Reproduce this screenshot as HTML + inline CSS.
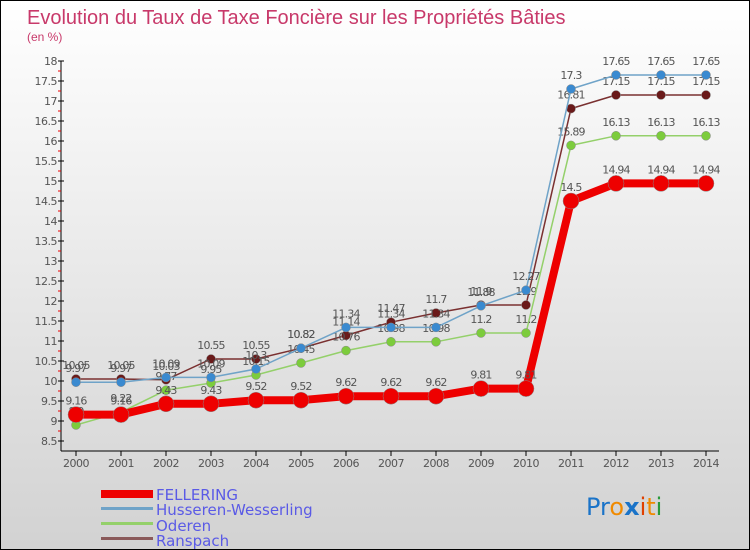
<!DOCTYPE html>
<html><head><meta charset="utf-8"><style>
body{margin:0;}
#c{width:750px;height:550px;position:relative;box-sizing:border-box;border:1px solid #000;background:linear-gradient(#ffffff,#d2d2d2);font-family:"DejaVu Sans","Liberation Sans",sans-serif;overflow:hidden}
</style></head><body>
<div id="c">
<svg id="s" width="750" height="550" style="position:absolute;left:0;top:0">
<text x="26" y="23" font-size="20" fill="#c8396a" font-family="Liberation Sans">Evolution du Taux de Taxe Foncière sur les Propriétés Bâties</text>
<text x="26" y="40" font-size="12" fill="#c8396a" font-family="Liberation Sans">(en %)</text>
<g id="axes"></g><g id="series"></g>
<g>
<rect x="100" y="489" width="52" height="8" fill="#e00"/>
<text x="155" y="499" font-size="15" fill="#5a5ae6">FELLERING</text>
<rect x="100" y="506" width="52" height="3" fill="#6fa3c8"/>
<text x="155" y="514" font-size="15" fill="#5a5ae6">Husseren-Wesserling</text>
<rect x="100" y="521" width="52" height="3" fill="#94d06a"/>
<text x="155" y="530" font-size="15" fill="#5a5ae6">Oderen</text>
<rect x="100" y="536" width="52" height="3" fill="#8a5a5a"/>
<text x="155" y="545" font-size="15" fill="#5a5ae6">Ranspach</text>
</g>
<text x="585" y="514" font-size="24"><tspan fill="#1a73c8">Pr</tspan><tspan fill="#f08a00">o</tspan><tspan fill="#1a73c8" font-weight="bold">x</tspan><tspan fill="#e04000">i</tspan><tspan fill="#f08a00">t</tspan><tspan fill="#2a9a3a">i</tspan></text>
</svg>
</div>
<script>
const years=[2000,2001,2002,2003,2004,2005,2006,2007,2008,2009,2010,2011,2012,2013,2014];
const fellering=[9.16,9.16,9.43,9.43,9.52,9.52,9.62,9.62,9.62,9.81,9.81,14.5,14.94,14.94,14.94];
const husseren=[9.97,9.97,10.09,10.09,10.3,10.82,11.34,11.34,11.34,11.88,12.27,17.3,17.65,17.65,17.65];
const oderen=[8.9,9.22,9.77,9.95,10.15,10.45,10.76,10.98,10.98,11.2,11.2,15.89,16.13,16.13,16.13];
const ranspach=[10.05,10.05,10.03,10.55,10.55,10.82,11.14,11.47,11.7,11.9,11.9,16.81,17.15,17.15,17.15];
const yTicks=[8.5,9,9.5,10,10.5,11,11.5,12,12.5,13,13.5,14,14.5,15,15.5,16,16.5,17,17.5,18];
const NS="http://www.w3.org/2000/svg";
const x=i=>75+i*45, y=v=>440-(v-8.5)*40;
function mk(t,a,p){const e=document.createElementNS(NS,t);for(const k in a)e.setAttribute(k,a[k]);p.appendChild(e);return e;}
const ax=document.getElementById('axes'), sg=document.getElementById('series');
let l=mk('line',{x1:60,y1:y(18),x2:60,y2:450,stroke:'#000'},ax);


l=mk('line',{x1:60,y1:450,x2:718,y2:450,stroke:'#000'},ax);


yTicks.forEach(v=>{
 mk('line',{x1:57,y1:y(v),x2:63,y2:y(v),stroke:'#000'},ax);
 if(v<18) mk('line',{x1:57,y1:y(v+0.25),x2:60,y2:y(v+0.25),stroke:'#e00'},ax);
 const t=mk('text',{x:56,y:y(v)+4,'font-size':11,fill:'#555','text-anchor':'end','letter-spacing':'-0.5'},ax);
 t.textContent=String(v);
 
 
});
years.forEach((yr,i)=>{
 mk('line',{x1:x(i),y1:450,x2:x(i),y2:455,stroke:'#000'},ax);
 const t=mk('text',{x:x(i),y:466,'font-size':11,fill:'#555','text-anchor':'middle','letter-spacing':'-0.5'},ax);
 t.textContent=String(yr);
 
 
});
function series(d,col,dot,w,r,name){
 const g=mk('g',{},sg);
 
 
 mk('polyline',{points:d.map((v,i)=>x(i)+','+y(v)).join(' '),fill:'none',stroke:col,'stroke-width':w,'stroke-linejoin':'round'},g);
 d.forEach((v,i)=>{
  const c=mk('circle',{cx:x(i),cy:y(v),r:r,fill:dot,stroke:'#888','stroke-width':0.5},g);
  
  
  const t=mk('text',{x:x(i),y:y(v)-10,'font-size':11,fill:'#555','text-anchor':'middle','letter-spacing':'-0.8'},g);
  t.textContent=String(v);
  
  
 });
}
series(ranspach,'#7a3030','#6a1a1a',1.5,4.5,'ranspach');
series(oderen,'#94d06a','#7ccc3c',1.5,4.5,'oderen');
series(husseren,'#6fa3c8','#3a8ad0',1.5,4.5,'husseren');
series(fellering,'#ee0000','#ee0000',8,8,'fellering');
</script>
</body></html>
